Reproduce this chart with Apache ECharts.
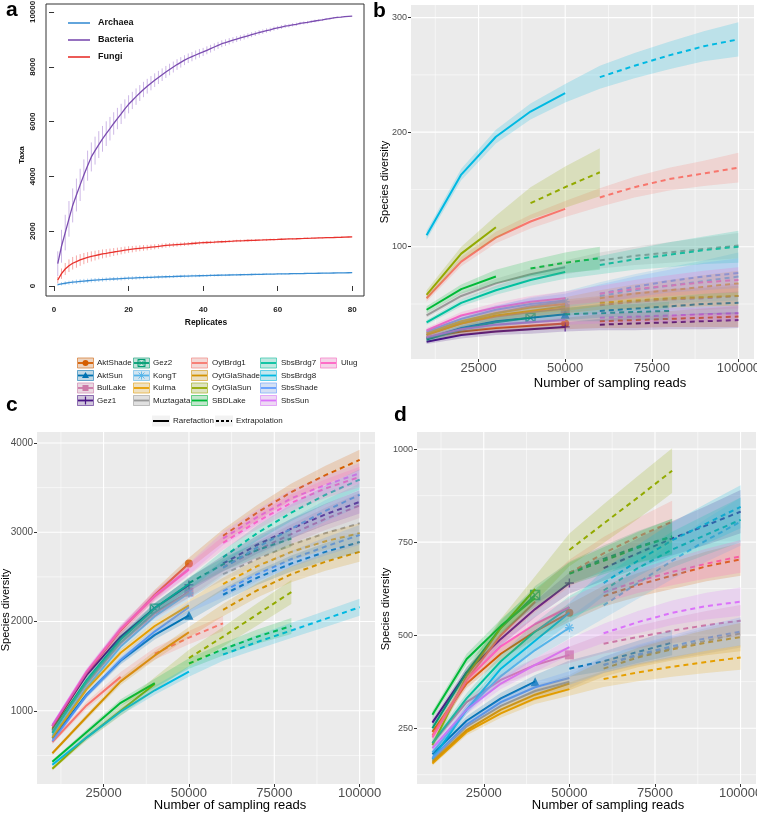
<!DOCTYPE html>
<html><head><meta charset="utf-8">
<script src="https://cdn.jsdelivr.net/npm/echarts@6/dist/echarts.min.js"></script>
<style>html,body{margin:0;padding:0;background:#fff}#c{width:757px;height:813px}</style>
</head><body><div id="c"></div>
<script>
const FONT = 'Liberation Sans';

// ---------- Panel a data ----------
const replicates = Array.from({length: 80}, (_, i) => i + 1);
const bacteriaTaxa = [815,1450,1950,2450,2940,3320,3690,4050,4390,4710,
  4940,5160,5370,5560,5740,5930,6110,6280,6460,6630,
  6770,6910,7040,7170,7290,7400,7510,7610,7710,7810,
  7900,7990,8080,8160,8240,8310,8370,8430,8490,8540,
  8600,8660,8720,8780,8840,8880,8930,8970,9010,9050,
  9090,9130,9170,9210,9250,9280,9320,9350,9390,9420,
  9450,9480,9500,9530,9550,9580,9600,9620,9650,9670,
  9690,9710,9740,9760,9780,9800,9810,9830,9840,9850];
const bacteriaErr = [450,600,650,650,620,600,590,570,550,530,
  510,490,470,450,430,410,390,370,350,330,
  315,300,290,280,270,260,250,240,230,220,
  210,200,195,190,180,175,170,165,160,150,
  145,140,135,130,125,120,115,110,105,100,
  95,92,90,88,85,82,80,78,75,72,
  70,68,65,62,60,58,55,52,50,48,
  45,42,40,36,32,28,24,18,12,0];
const fungiTaxa = [220,450,620,740,830,890,950,1000,1040,1080,
  1110,1140,1170,1190,1215,1240,1260,1285,1310,1330,
  1345,1360,1375,1390,1400,1415,1430,1445,1465,1480,
  1490,1500,1510,1520,1530,1540,1550,1560,1570,1580,
  1588,1595,1600,1608,1615,1622,1630,1636,1644,1650,
  1655,1661,1665,1670,1676,1680,1685,1691,1695,1700,
  1706,1710,1716,1720,1724,1730,1735,1741,1745,1750,
  1754,1758,1763,1766,1770,1775,1778,1782,1787,1790];
const fungiErr = [120,190,220,230,230,225,215,205,195,185,
  178,170,163,156,150,144,138,132,127,122,
  117,112,108,104,100,96,92,88,85,82,
  79,76,73,70,68,66,64,62,60,58,
  56,54,52,50,48,47,46,45,44,43,
  42,41,40,39,38,37,36,35,34,33,
  32,31,30,29,28,27,26,25,24,23,
  22,21,20,19,18,17,15,12,8,0];
const archaeaTaxa = [50,78,100,120,138,153,167,180,192,203,
  213,222,231,240,248,256,263,270,277,284,
  290,296,302,307,313,318,323,328,333,338,
  342,346,351,355,359,363,367,370,374,378,
  382,386,389,393,396,399,402,405,408,411,
  414,417,420,423,426,428,431,434,436,439,
  441,444,446,449,451,454,456,459,461,463,
  466,468,470,472,475,477,479,481,484,486];
const archaeaErr = [40,60,70,75,78,80,80,80,78,77,
  76,75,74,73,72,71,70,69,68,67,
  66,65,64,63,62,61,60,59,58,57,
  56,55,54,53,52,51,50,49,48,47,
  46,45,44,43,42,41,40,39,38,37,
  36,35,34,33,32,31,30,29,28,27,
  26,25,24,23,22,21,20,19,18,17,
  16,15,14,13,12,11,10,8,5,0];
const aXTicks = [0,20,40,60,80];
const aYTicks = [0,2000,4000,6000,8000,10000];

// ---------- Panels b, c, d data ----------
const sites = ['AktShade','AktSun','BulLake','Gez1','Gez2','KongT','Kulma','Muztagata','OytBrdg1','OytGlaShade','OytGlaSun','SBDLake','SbsBrdg7','SbsBrdg8','SbsShade','SbsSun','Ulug'];
const siteColors = ['#D55E00','#0072B2','#CC79A7','#4A1486','#009E73','#56B4E9','#E69F00','#999999','#F8766D','#D39200','#93AA00','#00BA38','#00C19F','#00B9E3','#619CFF','#DB72FB','#FF61C3'];
const siteShapes = ['circle','triangle','square','plus','squarecross','asterisk'];
const readSteps = [10000,20000,30000,40000,50000,60000,70000,80000,90000,100000];
const readTicks = [25000,50000,75000,100000];
const readMinor = [12500,37500,62500,87500];

const bSize = [50000,50000,50000,50000,40000,50000,50000,50000,50000,50000,30000,30000,50000,50000,50000,50000,50000];
const bMean = [
  [21,26,29,31,33,35,36,37,38,39],
  [20,29,35,38,41,44,46,48,50,51],
  [24,33,39,43,46,49,52,54,55,57],
  [17,23,26,28,30,32,33,34,35,36],
  [19,28,34,38,41,42,43,44],
  [23,34,42,48,52,57,62,66,70,74],
  [25,35,42,47,50,55,59,62,65,68],
  [40,57,68,76,82,88,92,95,98,101],
  [55,87,108,122,133,143,152,159,164,169],
  [23,33,40,44,48,51,53,55,56,57],
  [58,94,117,138,152,165],
  [45,63,74,81,86,90],
  [34,51,62,71,78,84,89,93,97,100],
  [110,163,196,218,234,248,258,267,275,281],
  [26,37,45,50,53,59,65,70,74,77],
  [21,28,32,34,36,38,39,40,41,42],
  [27,40,47,52,55,59,63,66,69,71]];
const bCI = [
  [2,3,4,4,5,6,7,7,8,9],
  [2,3,4,5,5,6,7,8,9,10],
  [2,3,4,5,6,7,8,9,10,11],
  [2,3,3,4,4,5,6,6,7,7],
  [2,3,4,5,6,7,7,8],
  [2,4,6,8,9,12,14,16,18,21],
  [2,3,4,5,6,7,8,9,10,11],
  [2,3,4,5,6,7,8,9,10,11],
  [3,4,5,6,7,8,9,10,11,13],
  [2,3,4,5,6,6,7,8,8,9],
  [4,6,10,14,18,21],
  [3,4,6,7,9,10],
  [2,3,4,5,6,8,9,11,12,14],
  [4,5,6,7,8,10,11,12,13,15],
  [2,3,4,5,6,8,9,10,12,13],
  [2,2,3,3,4,5,5,6,6,7],
  [2,3,4,5,6,7,8,9,10,11]];
const bYTicks = [100,200,300];
const bYMinor = [50,150,250];

const cSize = [50000,50000,50000,50000,40000,50000,50000,50000,30000,50000,40000,40000,50000,50000,50000,50000,50000];
const cMean = [
  [800,1420,1900,2300,2650,2960,3220,3450,3640,3810],
  [690,1180,1560,1850,2070,2300,2490,2650,2780,2890],
  [760,1310,1760,2090,2330,2610,2800,2980,3150,3300],
  [830,1400,1830,2150,2410,2650,2860,3040,3200,3340],
  [780,1340,1800,2145,2430,2640,2800,2930],
  [720,1260,1720,2060,2320,2600,2830,3040,3240,3420],
  [700,1240,1650,1950,2180,2420,2620,2780,2900,2990],
  [770,1300,1760,2100,2330,2530,2700,2860,2990,3100],
  [650,1060,1380,1640,1820,1980],
  [525,930,1330,1620,1880,2130,2350,2530,2670,2780],
  [350,700,1000,1300,1590,1830,2080,2330],
  [430,760,1090,1310,1530,1690,1830,1950],
  [750,1330,1800,2150,2420,2720,2990,3220,3420,3590],
  [395,700,990,1230,1440,1630,1770,1900,2030,2160],
  [660,1170,1570,1890,2160,2340,2530,2700,2840,2970],
  [840,1440,1920,2290,2590,2930,3170,3380,3530,3660],
  [830,1430,1910,2280,2580,2880,3120,3330,3490,3620]];
const cCI = [
  [25,35,45,55,65,75,85,95,105,115],
  [20,30,40,50,60,70,80,90,100,110],
  [25,35,45,55,65,80,95,110,125,140],
  [25,35,45,60,75,90,100,110,120,130],
  [25,35,45,55,65,75,85,95],
  [25,35,45,60,75,90,100,110,120,130],
  [20,30,40,50,60,70,80,90,100,110],
  [20,30,40,50,60,70,80,90,100,110],
  [25,40,55,65,75,85],
  [20,30,40,50,60,70,80,90,100,110],
  [20,35,55,75,95,110,125,135],
  [20,30,40,50,60,70,80,90],
  [25,35,45,55,65,75,85,95,105,115],
  [20,30,40,50,60,70,80,85,90,95],
  [20,30,40,50,60,70,80,90,100,110],
  [25,35,45,55,65,75,85,95,105,115],
  [25,35,45,55,65,75,85,95,105,115]];
const cYTicks = [1000,2000,3000,4000];
const cYMinor = [500,1500,2500,3500];

const dSize = [50000,40000,50000,50000,40000,50000,50000,50000,40000,50000,40000,40000,50000,50000,50000,50000,50000];
const dMean = [
  [240,370,450,510,560,605,635,660,685,704],
  [180,270,330,375,410,430,455,480],
  [210,320,380,420,447,477,495,512,527,539],
  [265,400,490,570,640,680,720,760,795,832],
  [250,400,520,608,668,705,738,765],
  [185,300,390,460,520,580,640,700,755,805],
  [155,240,290,330,355,382,400,415,428,440],
  [165,255,310,350,375,420,445,465,485,505],
  [230,380,500,590,667,720,765,805],
  [160,245,300,340,370,410,440,462,480,495],
  [205,390,520,624,729,800,870,942],
  [286,436,525,600,665,700,735,765],
  [210,330,430,510,575,620,680,730,770,810],
  [168,300,410,485,560,640,700,755,800,845],
  [170,260,320,360,385,420,448,470,492,510],
  [196,300,370,420,468,505,535,560,578,590],
  [225,380,470,530,575,615,645,670,692,712]];
const dCI = [
  [8,12,16,20,24,28,32,36,40,44],
  [8,12,15,18,22,26,30,34],
  [8,12,15,18,22,26,30,34,38,42],
  [10,14,18,22,28,34,40,46,52,58],
  [10,14,18,24,30,36,42,48],
  [8,12,16,22,28,35,42,50,58,65],
  [6,9,12,15,18,21,24,27,30,33],
  [6,9,12,15,18,22,26,30,34,38],
  [10,15,20,28,36,44,50,56],
  [6,9,12,15,18,22,26,30,34,38],
  [10,16,24,34,44,52,58,60],
  [10,14,18,24,30,36,42,48],
  [10,14,18,24,30,36,42,48,54,60],
  [8,12,16,22,28,35,42,48,54,58],
  [6,9,12,15,18,22,26,30,34,38],
  [8,12,15,18,22,26,30,33,36,38],
  [8,12,16,20,24,28,32,36,40,44]];
const dYTicks = [250,500,750,1000];
const dYMinor = [125,375,625,875];

// ---------- helpers ----------
function rgba(hex, a) {
  const n = parseInt(hex.slice(1), 16);
  return 'rgba(' + (n >> 16) + ',' + ((n >> 8) & 255) + ',' + (n & 255) + ',' + a + ')';
}
const plain = v => String(v);
const symbolMap = {
  circle: 'circle', triangle: 'triangle', square: 'rect',
  plus: 'path://M5,0L5,10M0,5L10,5',
  squarecross: 'path://M0,0L10,0L10,10L0,10Z M0,0L10,10 M10,0L0,10',
  asterisk: 'path://M5,0L5,10M0,5L10,5M1.5,1.5L8.5,8.5M8.5,1.5L1.5,8.5'
};
const READ_MIN = 5500, READ_MAX = 104500;

const series = [];

// ---------- Panel a series ----------
function errSeries(vals, errs, color) {
  return {
    type: 'custom', xAxisIndex: 0, yAxisIndex: 0, z: 2, silent: true,
    data: replicates.map((x, i) => [x, vals[i], errs[i]]),
    encode: {x: 0, y: 1},
    renderItem: (params, api) => {
      const x = api.value(0), m = api.value(1), e = api.value(2);
      const p1 = api.coord([x, m - e]), p2 = api.coord([x, m + e]);
      return {type: 'line', shape: {x1: p1[0], y1: p1[1], x2: p2[0], y2: p2[1]}, style: {stroke: color, lineWidth: 1}};
    }
  };
}
function aLine(vals, color) {
  return {type: 'line', xAxisIndex: 0, yAxisIndex: 0, z: 3, silent: true, symbol: 'none', showSymbol: false,
    data: replicates.map((x, i) => [x, vals[i]]), lineStyle: {color: color, width: 1.3}};
}
const aColors = {Archaea: '#3A8ED3', Bacteria: '#7B4DB0', Fungi: '#E8322D'};
const aBar = {Archaea: '#A9D0F2', Bacteria: '#CDB8E6', Fungi: '#F6A9A7'};
series.push(errSeries(bacteriaTaxa, bacteriaErr, aBar.Bacteria));
series.push(errSeries(fungiTaxa, fungiErr, aBar.Fungi));
series.push(errSeries(archaeaTaxa, archaeaErr, aBar.Archaea));
series.push(aLine(bacteriaTaxa, aColors.Bacteria));
series.push(aLine(fungiTaxa, aColors.Fungi));
series.push(aLine(archaeaTaxa, aColors.Archaea));

// ---------- ggplot style panels ----------
function panel(gi, size, mean, ci, yMin, yMax, yTicks, yMinor) {
  const gl = [];
  readTicks.forEach(v => gl.push([v, 0, 1.1]));
  readMinor.forEach(v => gl.push([v, 0, 0.55]));
  yTicks.forEach(v => gl.push([v, 1, 1.1]));
  yMinor.forEach(v => gl.push([v, 1, 0.55]));
  series.push({
    type: 'custom', xAxisIndex: gi, yAxisIndex: gi, z: 1, silent: true, data: gl,
    renderItem: (params, api) => {
      const v = api.value(0), k = api.value(1), w = api.value(2);
      let p1, p2;
      if (k === 0) { p1 = api.coord([v, yMin]); p2 = api.coord([v, yMax]); }
      else { p1 = api.coord([READ_MIN, v]); p2 = api.coord([READ_MAX, v]); }
      return {type: 'line', shape: {x1: p1[0], y1: p1[1], x2: p2[0], y2: p2[1]}, style: {stroke: '#FFFFFF', lineWidth: w}};
    }
  });
  // points
  siteShapes.forEach((sh, i) => {
    const idx = readSteps.indexOf(size[i]);
    const c = siteColors[i];
    const hollow = (sh === 'plus' || sh === 'squarecross' || sh === 'asterisk');
    series.push({
      type: 'scatter', xAxisIndex: gi, yAxisIndex: gi, z: 2, silent: true,
      symbol: symbolMap[sh], symbolSize: sh === 'circle' ? 8 : 9,
      data: [[size[i], mean[i][idx]]],
      itemStyle: hollow ? {color: 'rgba(0,0,0,0)', borderColor: c, borderWidth: 1.4} : {color: c}
    });
  });
  // lines
  sites.forEach((s, i) => {
    const rare = [], extra = [];
    mean[i].forEach((m, j) => {
      if (readSteps[j] <= size[i]) rare.push([readSteps[j], m]); else extra.push([readSteps[j], m]);
    });
    series.push({type: 'line', xAxisIndex: gi, yAxisIndex: gi, z: 3, silent: true, symbol: 'none', showSymbol: false,
      data: rare, lineStyle: {color: siteColors[i], width: 2}});
    series.push({type: 'line', xAxisIndex: gi, yAxisIndex: gi, z: 3, silent: true, symbol: 'none', showSymbol: false,
      data: extra, lineStyle: {color: siteColors[i], width: 2, type: [5, 4]}});
  });
  // ribbons
  sites.forEach((s, i) => {
    const pts = mean[i].map((m, j) => [readSteps[j], m - ci[i][j], m + ci[i][j]]);
    const fill = rgba(siteColors[i], 0.2);
    series.push({
      type: 'custom', xAxisIndex: gi, yAxisIndex: gi, z: 4, silent: true, data: pts,
      encode: {x: 0, y: [1, 2]},
      renderItem: (params, api) => {
        if (params.dataIndex !== 0) return null;
        const up = pts.map(p => api.coord([p[0], p[2]]));
        const lo = pts.map(p => api.coord([p[0], p[1]])).reverse();
        return {type: 'polygon', shape: {points: up.concat(lo)}, style: {fill: fill}};
      }
    });
  });
}
const B_Y = [2, 311], C_Y = [180, 4123], D_Y = [100, 1046];
panel(1, bSize, bMean, bCI, B_Y[0], B_Y[1], bYTicks, bYMinor);
panel(2, cSize, cMean, cCI, C_Y[0], C_Y[1], cYTicks, cYMinor);
panel(3, dSize, dMean, dCI, D_Y[0], D_Y[1], dYTicks, dYMinor);

// ---------- axes ----------
function readAxis(gi) {
  return {type: 'value', gridIndex: gi, min: READ_MIN, max: READ_MAX,
    axisLine: {show: false}, splitLine: {show: false},
    axisTick: {show: true, customValues: readTicks, length: 3, lineStyle: {color: '#333', width: 1}},
    axisLabel: {customValues: readTicks, formatter: plain, fontSize: 13, color: '#4D4D4D', margin: 3, fontFamily: FONT}};
}
function divAxis(gi, mm, ticks, fs) {
  return {type: 'value', gridIndex: gi, min: mm[0], max: mm[1],
    axisLine: {show: false}, splitLine: {show: false},
    axisTick: {show: true, customValues: ticks, length: 3, lineStyle: {color: '#333', width: 1}},
    axisLabel: {customValues: ticks, formatter: plain, fontSize: fs, color: '#4D4D4D', margin: 4, fontFamily: FONT}};
}
const xAxis = [
  {type: 'value', gridIndex: 0, min: -2.16, max: 83.16, axisLine: {show: false}, splitLine: {show: false},
   axisTick: {show: true, customValues: aXTicks, length: 5, lineStyle: {color: '#333'}},
   axisLabel: {customValues: aXTicks, formatter: plain, fontSize: 8, fontWeight: 'bold', color: '#222', margin: 10, fontFamily: FONT}},
  readAxis(1), readAxis(2), readAxis(3)];
const yAxis = [
  {type: 'value', gridIndex: 0, min: -365, max: 10290, axisLine: {show: false}, splitLine: {show: false},
   axisTick: {show: true, customValues: aYTicks, length: 5, lineStyle: {color: '#333'}},
   axisLabel: {customValues: aYTicks, formatter: plain, rotate: 90, fontSize: 8, fontWeight: 'bold', color: '#222', margin: 9, fontFamily: FONT}},
  divAxis(1, B_Y, bYTicks, 9), divAxis(2, C_Y, cYTicks, 10), divAxis(3, D_Y, dYTicks, 9)];

const grid = [
  {left: 46, top: 4, width: 318, height: 292, show: true, backgroundColor: '#FFFFFF', borderColor: '#333', borderWidth: 1, containLabel: false, outerBoundsMode: 'none'},
  {left: 411, top: 5, width: 343, height: 354, show: true, backgroundColor: '#EBEBEB', borderWidth: 0, containLabel: false, outerBoundsMode: 'none'},
  {left: 37, top: 432, width: 338, height: 352, show: true, backgroundColor: '#EBEBEB', borderWidth: 0, containLabel: false, outerBoundsMode: 'none'},
  {left: 417, top: 432, width: 339, height: 352, show: true, backgroundColor: '#EBEBEB', borderWidth: 0, containLabel: false, outerBoundsMode: 'none'}];

// ---------- graphics: titles, letters, legends ----------
const g = [];
function txt(x, y, text, font, opts) {
  opts = opts || {};
  g.push({type: 'text', x: x, y: y, rotation: opts.rot || 0, silent: true,
    style: {text: text, font: font, fill: opts.fill || '#000',
      textAlign: opts.align || 'left', textVerticalAlign: opts.va || 'middle',
      align: opts.align || 'left', verticalAlign: opts.va || 'middle'}});
}
txt(6, 21, 'a', 'bold 21px ' + FONT, {va: 'bottom'});
txt(373, 22, 'b', 'bold 21px ' + FONT, {va: 'bottom'});
txt(6, 416, 'c', 'bold 21px ' + FONT, {va: 'bottom'});
txt(394, 426, 'd', 'bold 21px ' + FONT, {va: 'bottom'});

txt(22, 155, 'Taxa', 'bold 8px ' + FONT, {align: 'center', rot: Math.PI / 2, fill: '#111'});
txt(206, 323, 'Replicates', 'bold 8.5px ' + FONT, {align: 'center', fill: '#111'});
txt(385, 182, 'Species diversity', '11px ' + FONT, {align: 'center', rot: Math.PI / 2});
txt(610, 383, 'Number of sampling reads', '13px ' + FONT, {align: 'center'});
txt(6, 610, 'Species diversity', '11px ' + FONT, {align: 'center', rot: Math.PI / 2});
txt(230, 805, 'Number of sampling reads', '13px ' + FONT, {align: 'center'});
txt(386, 609, 'Species diversity', '11px ' + FONT, {align: 'center', rot: Math.PI / 2});
txt(608, 805, 'Number of sampling reads', '13px ' + FONT, {align: 'center'});

// panel a legend
const aLegend = ['Archaea', 'Bacteria', 'Fungi'];
const aLegY = [23, 40, 57];
aLegend.forEach((n, i) => {
  g.push({type: 'line', silent: true, shape: {x1: 68, y1: aLegY[i], x2: 90, y2: aLegY[i]}, style: {stroke: aColors[n], lineWidth: 1.6}});
  txt(98, aLegY[i], n, 'bold 9px ' + FONT, {fill: '#111'});
});

// site legend (column-major, 4 rows)
const colKeyX = [77, 133, 191, 260, 320];
const colTextX = [97, 153, 212, 281, 341];
const rowY = [363, 375.5, 388, 400.5];
sites.forEach((s, i) => {
  const col = Math.floor(i / 4), row = i % 4;
  const kx = colKeyX[col], cy = rowY[row], c = siteColors[i];
  g.push({type: 'rect', silent: true, shape: {x: kx, y: cy - 5.5, width: 17, height: 11}, style: {fill: '#F2F2F2'}});
  g.push({type: 'rect', silent: true, shape: {x: kx + 0.5, y: cy - 5, width: 16, height: 10}, style: {fill: rgba(c, 0.2), stroke: rgba(c, 0.55), lineWidth: 1}});
  g.push({type: 'line', silent: true, shape: {x1: kx + 1, y1: cy, x2: kx + 16, y2: cy}, style: {stroke: c, lineWidth: 1.8}});
  const sh = siteShapes[i], mx = kx + 8.5;
  if (sh === 'circle') g.push({type: 'circle', silent: true, shape: {cx: mx, cy: cy, r: 3}, style: {fill: c}});
  if (sh === 'triangle') g.push({type: 'polygon', silent: true, shape: {points: [[mx, cy - 3.5], [mx + 3.5, cy + 2.5], [mx - 3.5, cy + 2.5]]}, style: {fill: c}});
  if (sh === 'square') g.push({type: 'rect', silent: true, shape: {x: mx - 3, y: cy - 3, width: 6, height: 6}, style: {fill: c}});
  if (sh === 'plus') {
    g.push({type: 'line', silent: true, shape: {x1: mx, y1: cy - 4, x2: mx, y2: cy + 4}, style: {stroke: c, lineWidth: 1.2}});
  }
  if (sh === 'squarecross') {
    g.push({type: 'rect', silent: true, shape: {x: mx - 3.5, y: cy - 3.5, width: 7, height: 7}, style: {fill: 'none', stroke: c, lineWidth: 1}});
    g.push({type: 'line', silent: true, shape: {x1: mx - 3.5, y1: cy - 3.5, x2: mx + 3.5, y2: cy + 3.5}, style: {stroke: c, lineWidth: 0.8}});
    g.push({type: 'line', silent: true, shape: {x1: mx + 3.5, y1: cy - 3.5, x2: mx - 3.5, y2: cy + 3.5}, style: {stroke: c, lineWidth: 0.8}});
  }
  if (sh === 'asterisk') {
    g.push({type: 'line', silent: true, shape: {x1: mx, y1: cy - 4, x2: mx, y2: cy + 4}, style: {stroke: c, lineWidth: 0.9}});
    g.push({type: 'line', silent: true, shape: {x1: mx - 3, y1: cy - 3, x2: mx + 3, y2: cy + 3}, style: {stroke: c, lineWidth: 0.9}});
    g.push({type: 'line', silent: true, shape: {x1: mx + 3, y1: cy - 3, x2: mx - 3, y2: cy + 3}, style: {stroke: c, lineWidth: 0.9}});
  }
  txt(colTextX[col], cy, s, '8px ' + FONT, {fill: '#222'});
});

// rarefaction / extrapolation legend
g.push({type: 'rect', silent: true, shape: {x: 152, y: 415.5, width: 18, height: 11}, style: {fill: '#F2F2F2'}});
g.push({type: 'line', silent: true, shape: {x1: 153, y1: 421, x2: 169, y2: 421}, style: {stroke: '#000', lineWidth: 2}});
txt(173, 421, 'Rarefaction', '8px ' + FONT, {fill: '#222'});
g.push({type: 'rect', silent: true, shape: {x: 215, y: 415.5, width: 18, height: 11}, style: {fill: '#F2F2F2'}});
g.push({type: 'line', silent: true, shape: {x1: 216, y1: 421, x2: 232, y2: 421}, style: {stroke: '#000', lineWidth: 2, lineDash: [3, 2]}});
txt(236, 421, 'Extrapolation', '8px ' + FONT, {fill: '#222'});

const chart = echarts.init(document.getElementById('c'), null, {renderer: 'canvas'});
chart.setOption({
  animation: false,
  backgroundColor: '#FFFFFF',
  textStyle: {fontFamily: FONT},
  grid: grid, xAxis: xAxis, yAxis: yAxis, series: series, graphic: g
});
</script></body></html>
